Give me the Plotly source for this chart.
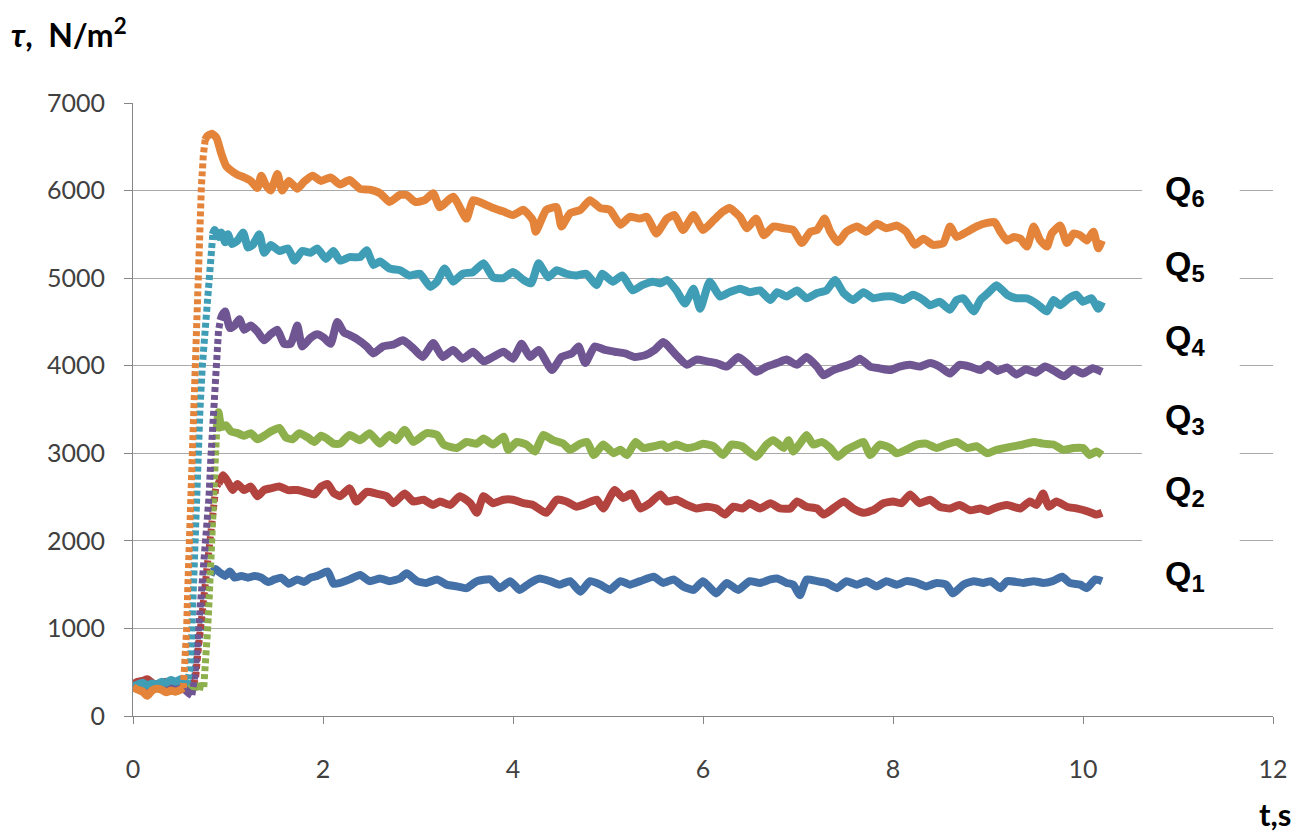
import plotly.graph_objects as go

# ---------------------------------------------------------------
# Wall shear stress tau (N/m^2) versus time t (s) for six flow rates
# ---------------------------------------------------------------

Q1_T = [0, 0.05, 0.1, 0.15, 0.2, 0.25, 0.3, 0.35, 0.4, 0.45, 0.5, 0.55, 0.62,
        0.65, 0.68, 0.71, 0.74, 0.77, 0.80, 0.84,
        0.87, 0.9, 0.97, 1.02, 1.07, 1.14, 1.21, 1.28, 1.35, 1.42, 1.49, 1.56, 1.64, 1.73, 1.8, 1.87, 1.94,
        2.05, 2.11, 2.18, 2.28, 2.39, 2.49, 2.6, 2.7, 2.81, 2.88, 2.99, 3.09, 3.2, 3.3, 3.41, 3.51, 3.62,
        3.76, 3.86, 3.97, 4.07, 4.18, 4.28, 4.39, 4.49, 4.6, 4.71, 4.81, 4.92, 5.02, 5.13, 5.23, 5.34,
        5.48, 5.58, 5.69, 5.79, 5.9, 6.0, 6.14, 6.25, 6.37, 6.49, 6.6, 6.71, 6.78, 6.88, 6.95, 7.02,
        7.09, 7.2, 7.3, 7.41, 7.51, 7.62, 7.72, 7.83, 7.93, 8.04, 8.14, 8.25, 8.35, 8.46, 8.56, 8.63,
        8.74, 8.85, 8.95, 9.03, 9.13, 9.2, 9.37, 9.48, 9.58, 9.68, 9.78, 9.86, 9.97, 10.04, 10.13, 10.2]
Q1_TAU = [350, 370, 360, 380, 360, 340, 360, 350, 330, 340, 350, 340, 350,
          450, 750, 1000, 1250, 1420, 1560, 1650,
          1680, 1650, 1600, 1650, 1580, 1600, 1580, 1600, 1580, 1530, 1560, 1580, 1510, 1560, 1530, 1580, 1600,
          1650, 1510, 1520, 1560, 1610, 1540, 1570, 1540, 1570, 1630, 1540, 1520, 1560, 1500, 1480, 1460, 1540,
          1560, 1460, 1540, 1440, 1520, 1570, 1540, 1500, 1540, 1420, 1540, 1500, 1440, 1540, 1500, 1540,
          1590, 1520, 1560, 1480, 1440, 1540, 1400, 1520, 1440, 1540, 1520, 1560, 1570, 1520, 1500, 1380,
          1560, 1540, 1520, 1460, 1540, 1500, 1540, 1480, 1540, 1500, 1540, 1520, 1480, 1520, 1500, 1400,
          1500, 1540, 1520, 1540, 1460, 1540, 1520, 1540, 1520, 1540, 1590, 1520, 1500, 1460, 1560, 1540]

Q2_T = [0, 0.05, 0.1, 0.15, 0.2, 0.25, 0.3, 0.35, 0.4, 0.45, 0.5, 0.55, 0.6, 0.64,
        0.66, 0.69, 0.72, 0.75, 0.78, 0.81, 0.845, 0.87, 0.9,
        0.95, 1.0, 1.05, 1.1, 1.17, 1.24, 1.31, 1.38, 1.45, 1.54, 1.63, 1.73, 1.84, 1.91, 1.98, 2.05, 2.11,
        2.18, 2.28, 2.35, 2.46, 2.56, 2.67, 2.74, 2.86, 2.95, 3.06, 3.16, 3.23, 3.34, 3.44, 3.55, 3.62,
        3.69, 3.79, 3.9, 4.0, 4.11, 4.21, 4.35, 4.46, 4.56, 4.67, 4.78, 4.88, 4.95, 5.07, 5.16, 5.25,
        5.34, 5.44, 5.55, 5.62, 5.72, 5.83, 5.93, 6.04, 6.14, 6.23, 6.32, 6.42, 6.49, 6.6, 6.71, 6.81,
        6.92, 6.99, 7.09, 7.2, 7.27, 7.37, 7.48, 7.58, 7.69, 7.79, 7.9, 8.0, 8.09, 8.18, 8.28, 8.39,
        8.49, 8.6, 8.7, 8.81, 8.92, 9.0, 9.06, 9.2, 9.34, 9.44, 9.51, 9.58, 9.64, 9.72, 9.83, 9.93,
        10.04, 10.14, 10.2]
Q2_TAU = [360, 390, 400, 420, 380, 360, 370, 390, 350, 330, 340, 330, 320, 360,
          450, 800, 1100, 1500, 1850, 2150, 2450, 2600, 2650,
          2750, 2670, 2580, 2650, 2580, 2620, 2510, 2580, 2600, 2620, 2580, 2580, 2550, 2530, 2620, 2650, 2550,
          2510, 2600, 2450, 2560, 2540, 2510, 2430, 2540, 2450, 2470, 2410, 2450, 2410, 2510, 2430, 2320,
          2510, 2430, 2470, 2470, 2430, 2410, 2320, 2470, 2450, 2390, 2430, 2470, 2370, 2580, 2490, 2540,
          2370, 2430, 2530, 2450, 2470, 2410, 2370, 2390, 2370, 2300, 2390, 2370, 2430, 2370, 2430, 2370,
          2370, 2450, 2390, 2370, 2300, 2370, 2450, 2370, 2320, 2350, 2430, 2450, 2430, 2530, 2430, 2470,
          2390, 2370, 2410, 2350, 2370, 2340, 2370, 2410, 2370, 2450, 2410, 2540, 2390, 2450, 2390, 2370,
          2340, 2300, 2320]

Q3_T = [0, 0.05, 0.1, 0.15, 0.2, 0.25, 0.3, 0.35, 0.4, 0.45, 0.5, 0.55, 0.6, 0.65, 0.7, 0.745,
        0.76, 0.775, 0.786, 0.80, 0.815, 0.835, 0.85, 0.865, 0.88,
        0.9, 0.93, 0.98, 1.03, 1.1, 1.17, 1.24, 1.31, 1.38, 1.45, 1.54, 1.61, 1.68, 1.75, 1.84, 1.91,
        1.98, 2.05, 2.11, 2.18, 2.28, 2.39, 2.49, 2.6, 2.7, 2.77, 2.86, 2.95, 3.09, 3.2, 3.27, 3.41,
        3.51, 3.62, 3.69, 3.79, 3.9, 3.95, 4.04, 4.14, 4.23, 4.32, 4.42, 4.53, 4.6, 4.71, 4.78, 4.85,
        4.95, 5.06, 5.13, 5.2, 5.29, 5.37, 5.48, 5.58, 5.62, 5.72, 5.83, 5.93, 6.0, 6.11, 6.21, 6.3,
        6.41, 6.56, 6.67, 6.74, 6.85, 6.9, 6.95, 7.02, 7.09, 7.16, 7.25, 7.34, 7.42, 7.51, 7.62, 7.69,
        7.76, 7.86, 7.97, 8.04, 8.14, 8.25, 8.35, 8.46, 8.56, 8.67, 8.78, 8.88, 8.99, 9.09, 9.27, 9.37,
        9.48, 9.58, 9.69, 9.79, 9.9, 10.0, 10.07, 10.14, 10.2]
Q3_TAU = [330, 350, 370, 310, 330, 320, 310, 300, 320, 280, 300, 320, 330, 330, 340, 330,
          500, 750, 1000, 1300, 1600, 2000, 2500, 2950, 3250,
          3470, 3300, 3320, 3250, 3230, 3200, 3230, 3160, 3200, 3250, 3290, 3180, 3160, 3230, 3180, 3130,
          3200, 3160, 3110, 3110, 3210, 3150, 3230, 3110, 3210, 3150, 3270, 3130, 3230, 3210, 3100, 3060,
          3130, 3110, 3170, 3100, 3190, 3040, 3130, 3100, 3020, 3210, 3150, 3110, 3040, 3110, 3130, 2980,
          3100, 3000, 3040, 2980, 3130, 3060, 3080, 3100, 3060, 3100, 3060, 3080, 3110, 3080, 2980, 3100,
          3080, 2960, 3100, 3150, 3060, 3150, 3020, 3110, 3210, 3100, 3130, 3060, 2960, 3040, 3100, 3130,
          2980, 3100, 3060, 3000, 3040, 3100, 3110, 3060, 3100, 3130, 3060, 3080, 3000, 3040, 3080, 3100,
          3130, 3110, 3100, 3040, 3060, 3060, 2980, 3020, 2980]

Q4_T = [0, 0.05, 0.1, 0.15, 0.2, 0.25, 0.3, 0.35, 0.4, 0.45, 0.5, 0.55, 0.59, 0.62,
        0.65, 0.675, 0.70, 0.725, 0.75, 0.775, 0.80, 0.82, 0.84, 0.86, 0.88, 0.90, 0.92,
        0.94, 0.97, 1.02, 1.07, 1.12, 1.17, 1.24, 1.31, 1.38, 1.45, 1.52, 1.59, 1.66, 1.73, 1.78, 1.87,
        1.94, 2.01, 2.08, 2.15, 2.22, 2.28, 2.35, 2.46, 2.53, 2.63, 2.74, 2.84, 2.95, 3.05, 3.16, 3.26,
        3.37, 3.47, 3.58, 3.69, 3.79, 3.9, 4.0, 4.09, 4.18, 4.27, 4.41, 4.51, 4.62, 4.69, 4.76, 4.86,
        4.97, 5.07, 5.18, 5.28, 5.39, 5.49, 5.58, 5.62, 5.72, 5.83, 5.93, 6.04, 6.14, 6.25, 6.37, 6.46,
        6.56, 6.67, 6.78, 6.88, 6.99, 7.09, 7.2, 7.27, 7.37, 7.48, 7.58, 7.65, 7.76, 7.86, 7.97, 8.07,
        8.18, 8.28, 8.39, 8.49, 8.6, 8.7, 8.81, 8.92, 9.0, 9.1, 9.2, 9.3, 9.4, 9.5, 9.6, 9.7, 9.8, 9.9,
        10.0, 10.1, 10.2]
Q4_TAU = [320, 350, 360, 340, 320, 330, 350, 340, 330, 320, 320, 300, 260, 240,
          450, 800, 1150, 1500, 1800, 2050, 2500, 2950, 3400, 3800, 4150, 4400, 4520,
          4580, 4620, 4430, 4460, 4530, 4410, 4460, 4390, 4290, 4360, 4410, 4250, 4250, 4460, 4220, 4320,
          4360, 4320, 4250, 4500, 4380, 4350, 4310, 4220, 4140, 4220, 4240, 4290, 4200, 4100, 4260, 4100,
          4180, 4080, 4160, 4050, 4100, 4160, 4080, 4250, 4100, 4180, 3950, 4100, 4140, 4220, 4030, 4220,
          4180, 4160, 4140, 4100, 4120, 4180, 4270, 4240, 4120, 4010, 4070, 4050, 4030, 3990, 4100, 4030,
          3930, 3990, 4030, 4070, 4010, 4100, 3990, 3890, 3950, 3990, 4030, 4080, 3990, 3970, 3950, 3990,
          4010, 3990, 4030, 3990, 3910, 4010, 3990, 3950, 4010, 3940, 3980, 3900, 3960, 3920, 3990, 3940, 3880, 3960,
          3910, 3970, 3930]

Q5_T = [0, 0.05, 0.1, 0.15, 0.2, 0.25, 0.3, 0.35, 0.4, 0.45, 0.5, 0.55, 0.58,
        0.60, 0.62, 0.635, 0.65, 0.665, 0.68, 0.705, 0.73, 0.76, 0.79, 0.815, 0.84,
        0.86, 0.9, 0.93, 0.97, 1.0, 1.04, 1.1, 1.16, 1.21, 1.26, 1.33, 1.38, 1.45, 1.54, 1.63, 1.7,
        1.78, 1.87, 1.94, 2.03, 2.11, 2.18, 2.28, 2.39, 2.46, 2.53, 2.6, 2.7, 2.81, 2.91, 3.02, 3.13,
        3.2, 3.28, 3.37, 3.47, 3.58, 3.69, 3.79, 3.9, 4.0, 4.11, 4.19, 4.27, 4.37, 4.46, 4.56, 4.67,
        4.77, 4.88, 4.94, 5.05, 5.15, 5.26, 5.36, 5.47, 5.55, 5.62, 5.72, 5.81, 5.9, 5.97, 6.07, 6.18,
        6.28, 6.39, 6.49, 6.6, 6.71, 6.78, 6.88, 6.99, 7.09, 7.2, 7.3, 7.39, 7.48, 7.58, 7.69, 7.79,
        7.9, 8.0, 8.11, 8.21, 8.32, 8.39, 8.49, 8.6, 8.67, 8.74, 8.85, 8.92, 9.0, 9.09, 9.2, 9.3,
        9.41, 9.51, 9.62, 9.69, 9.76, 9.85, 9.93, 10.0, 10.09, 10.16, 10.2]
Q5_TAU = [340, 360, 380, 350, 370, 360, 390, 380, 410, 390, 420, 380, 420,
          550, 1000, 1500, 2000, 2450, 2900, 3500, 4000, 4450, 4950, 5300, 5500,
          5550, 5470, 5520, 5410, 5500, 5390, 5430, 5520, 5350, 5380, 5500, 5290, 5380, 5310, 5340, 5200,
          5310, 5290, 5340, 5220, 5310, 5200, 5240, 5240, 5320, 5150, 5190, 5110, 5090, 5030, 5050, 4900,
          4960, 5110, 4960, 5050, 5070, 5170, 5010, 5000, 5070, 4980, 4940, 5170, 5010, 5090, 5050, 5030,
          5050, 4920, 5050, 4960, 5030, 4860, 4920, 4960, 4940, 4980, 4860, 4710, 4880, 4650, 4960, 4790,
          4840, 4880, 4840, 4860, 4750, 4840, 4790, 4860, 4770, 4830, 4860, 4980, 4830, 4750, 4840, 4770,
          4790, 4790, 4750, 4810, 4750, 4690, 4730, 4640, 4750, 4770, 4620, 4750, 4830, 4920, 4810, 4770,
          4770, 4710, 4620, 4750, 4690, 4770, 4810, 4730, 4770, 4650, 4730]

Q6_T = [0, 0.05, 0.1, 0.15, 0.2, 0.25, 0.3, 0.35, 0.4, 0.45, 0.5, 0.53,
        0.55, 0.565, 0.575, 0.585, 0.60, 0.615, 0.63, 0.645, 0.66, 0.675, 0.69, 0.705, 0.72, 0.74, 0.76,
        0.78, 0.83, 0.88, 0.93, 0.98, 1.03, 1.1, 1.17, 1.24, 1.31, 1.35, 1.4, 1.45, 1.52, 1.57, 1.64,
        1.73, 1.8, 1.89, 1.98, 2.08, 2.18, 2.28, 2.39, 2.49, 2.6, 2.7, 2.81, 2.88, 2.97, 3.07, 3.16,
        3.23, 3.37, 3.51, 3.58, 3.69, 3.79, 3.9, 4.0, 4.11, 4.21, 4.24, 4.35, 4.46, 4.51, 4.6, 4.71,
        4.81, 4.92, 5.02, 5.13, 5.23, 5.34, 5.41, 5.51, 5.62, 5.7, 5.79, 5.9, 6.0, 6.11, 6.21, 6.28,
        6.39, 6.46, 6.56, 6.64, 6.74, 6.85, 6.95, 7.04, 7.13, 7.2, 7.28, 7.34, 7.42, 7.51, 7.62, 7.72,
        7.83, 7.93, 8.04, 8.14, 8.23, 8.32, 8.42, 8.53, 8.6, 8.67, 8.78, 8.88, 8.99, 9.07, 9.13, 9.2,
        9.27, 9.34, 9.41, 9.48, 9.55, 9.62, 9.67, 9.76, 9.83, 9.9, 9.97, 10.04, 10.11, 10.16, 10.2]
Q6_TAU = [330, 300, 280, 230, 290, 310, 300, 270, 290, 280, 300, 320,
          650, 1000, 1400, 1750, 2200, 2700, 3200, 3600, 4200, 4700, 5250, 5650, 6050, 6400, 6580,
          6620, 6650, 6600, 6420, 6280, 6230, 6180, 6150, 6110, 6030, 6170, 6060, 6000, 6190, 6000, 6110,
          6020, 6100, 6170, 6110, 6150, 6070, 6120, 6020, 6010, 5970, 5870, 5950, 5950, 5870, 5890, 5970,
          5810, 5930, 5680, 5890, 5850, 5800, 5760, 5720, 5780, 5660, 5530, 5780, 5810, 5590, 5740, 5780,
          5890, 5800, 5780, 5610, 5700, 5680, 5700, 5510, 5680, 5720, 5550, 5720, 5550, 5660, 5760, 5800,
          5700, 5570, 5680, 5490, 5590, 5570, 5550, 5400, 5530, 5550, 5680, 5530, 5410, 5530, 5590, 5530,
          5620, 5570, 5600, 5530, 5380, 5450, 5380, 5400, 5590, 5470, 5530, 5590, 5630, 5640, 5530, 5430,
          5470, 5450, 5360, 5590, 5430, 5360, 5510, 5600, 5400, 5510, 5490, 5430, 5530, 5340, 5430]

SERIES_NAMES = ["Q1", "Q2", "Q3", "Q4", "Q5", "Q6"]
SERIES_T = [Q1_T, Q2_T, Q3_T, Q4_T, Q5_T, Q6_T]
SERIES_TAU = [Q1_TAU, Q2_TAU, Q3_TAU, Q4_TAU, Q5_TAU, Q6_TAU]
COLORS = ["#4470A8", "#B2433F", "#8DB04C", "#6F5592", "#3F9DB5", "#E4843A"]
# time span of the steep start-up rise of each series (drawn as a dotted trace)
RISE_SPAN = [(0.62, 0.84), (0.64, 0.90), (0.745, 0.88), (0.62, 0.92), (0.58, 0.84), (0.53, 0.76)]

# right-hand series labels: text and the tau level they sit at
LABEL_TEXT = ["<b>Q<sub>1</sub></b>", "<b>Q<sub>2</sub></b>", "<b>Q<sub>3</sub></b>",
              "<b>Q<sub>4</sub></b>", "<b>Q<sub>5</sub></b>", "<b>Q<sub>6</sub></b>"]
LABEL_TAU = [1600, 2580, 3400, 4300, 5150, 6000]

X_TICKS = [0, 2, 4, 6, 8, 10, 12]
Y_TICKS = [0, 1000, 2000, 3000, 4000, 5000, 6000, 7000]

AXIS_GREY = "#868686"
GRID_GREY = "#A9A9A9"
TICK_FONT = dict(family="Lato", size=25, color="#404040")

# plot area in pixels (figure is 1307 x 835)
PLOT_L, PLOT_R, PLOT_T, PLOT_B = 133, 1273, 103, 716


def paper_xy(px, py):
    """Convert a pixel position on the figure to paper coordinates."""
    return (px - PLOT_L) / (PLOT_R - PLOT_L), (PLOT_B - py) / (PLOT_B - PLOT_T)


fig = go.Figure()

for name, ts, vs, color, (t0, t1) in zip(SERIES_NAMES, SERIES_T, SERIES_TAU, COLORS, RISE_SPAN):
    solid_x, solid_y, rise_x, rise_y = [], [], [], []
    gap_added = False
    for t, v in zip(ts, vs):
        if t <= t0 or t >= t1:
            if t >= t1 and not gap_added:
                solid_x.append(None)
                solid_y.append(None)
                gap_added = True
            solid_x.append(t)
            solid_y.append(v)
        if t0 <= t <= t1:
            rise_x.append(t)
            rise_y.append(v)
    fig.add_trace(go.Scatter(x=rise_x, y=rise_y, mode="lines", name=name,
                             line=dict(color=color, width=7, dash="5px,3px"),
                             hoverinfo="skip", showlegend=False))
    fig.add_trace(go.Scatter(x=solid_x, y=solid_y, mode="lines", name=name,
                             line=dict(color=color, width=8, shape="spline", smoothing=0.5),
                             connectgaps=False, showlegend=False))

# white label boxes interrupting the grid lines, with the series names on top
for text, lvl in zip(LABEL_TEXT, LABEL_TAU):
    fig.add_shape(type="rect", xref="x", yref="y", x0=10.62, x1=11.65,
                  y0=lvl - 590, y1=lvl + 230, fillcolor="white",
                  line=dict(width=0), layer="above")
    fig.add_annotation(x=11.07, y=lvl, xref="x", yref="y", text=text, showarrow=False,
                       xanchor="center", yanchor="middle",
                       font=dict(family="Liberation Sans", size=34, color="#000000"))

# axis titles
tx, ty = paper_xy(9, 33)
fig.add_annotation(x=tx, y=ty, xref="paper", yref="paper", text="<b><i>τ</i>,  N/m<sup>2</sup></b>",
                   showarrow=False, xanchor="left", yanchor="middle",
                   font=dict(family="Lato", size=32, color="#000000"))
tx, ty = paper_xy(1275, 814)
fig.add_annotation(x=tx, y=ty, xref="paper", yref="paper", text="<b>t,s</b>",
                   showarrow=False, xanchor="center", yanchor="middle",
                   font=dict(family="Lato", size=31, color="#000000"))

fig.update_layout(
    width=1307, height=835,
    margin=dict(l=PLOT_L, r=1307 - PLOT_R, t=PLOT_T, b=835 - PLOT_B),
    plot_bgcolor="white", paper_bgcolor="white",
    showlegend=False,
    xaxis=dict(range=[0, 12], tickvals=X_TICKS, ticktext=[str(v) for v in X_TICKS],
               ticks="outside", ticklen=7, tickcolor=AXIS_GREY, tickwidth=1,
               showline=True, linecolor=AXIS_GREY, linewidth=1,
               showgrid=False, zeroline=False, tickfont=TICK_FONT,
               ticklabelstandoff=24, fixedrange=True),
    yaxis=dict(range=[0, 7000], tickvals=Y_TICKS, ticktext=[str(v) for v in Y_TICKS],
               ticks="outside", ticklen=8, tickcolor=AXIS_GREY, tickwidth=1,
               showline=True, linecolor=AXIS_GREY, linewidth=1,
               showgrid=True, gridcolor=GRID_GREY, gridwidth=1,
               zeroline=False, tickfont=TICK_FONT, ticklabelstandoff=14, fixedrange=True),
)

fig.write_html("out.html")
